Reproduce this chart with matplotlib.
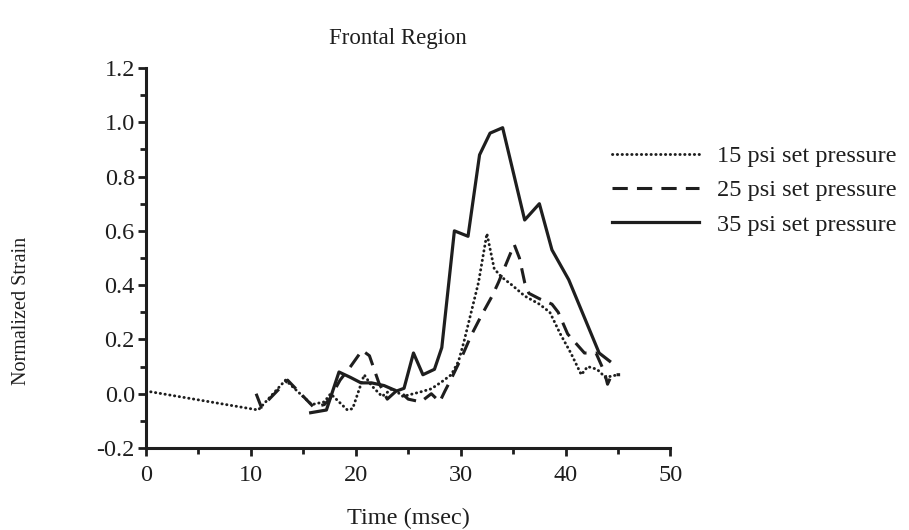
import matplotlib
matplotlib.use("Agg")
import matplotlib.pyplot as plt
from matplotlib.ticker import MultipleLocator

plt.rcParams['font.family'] = ['Liberation Serif', 'DejaVu Serif']

# 15 psi set pressure (dotted)
t15 = [0, 10.7, 13.3, 15.8, 17.0, 17.6, 19.2, 19.7, 20.8, 21.5, 22.5, 23.5, 24.5, 25.5,
       26.2, 27.2, 28.2, 29.1, 29.8, 30.3, 31.0, 31.7, 32.5, 33.2, 33.9, 34.9, 36.1,
       37.5, 38.5, 39.5, 40.5, 41.5, 42.1, 43.0, 43.8, 45.0]
v15 = [0.01, -0.06, 0.05, -0.04, -0.03, 0.0, -0.06, -0.055, 0.07, 0.03, -0.01, 0.02, -0.01, 0.0,
       0.007, 0.018, 0.044, 0.07, 0.12, 0.19, 0.30, 0.41, 0.59, 0.46, 0.43, 0.40, 0.36,
       0.33, 0.30, 0.22, 0.15, 0.07, 0.10, 0.09, 0.06, 0.07]

# 25 psi set pressure (dashed)
t25 = [10.5, 11.0, 13.5, 16.0, 17.0, 17.5, 18.5, 19.5, 20.6, 21.3, 22.2, 23.0, 24.0, 25.0,
       26.2, 27.2, 28.0, 28.5, 29.1, 30.1, 31.0, 32.0, 33.0, 33.6, 35.1, 35.6, 36.1,
       36.5, 37.5, 38.7, 39.3, 40.2, 41.8, 42.9, 43.7, 44.0, 44.4, 45.2]
v25 = [0.0, -0.05, 0.05, -0.05, -0.04, -0.02, 0.05, 0.10, 0.16, 0.14, 0.04, -0.02, 0.015, -0.02,
       -0.03, 0.0, -0.03, 0.01, 0.055, 0.135, 0.215, 0.29, 0.36, 0.41, 0.55, 0.50, 0.41,
       0.37, 0.35, 0.33, 0.30, 0.22, 0.15, 0.15, 0.08, 0.035, 0.07, 0.07]

# 35 psi set pressure (solid)
t35 = [15.7, 17.2, 18.4, 19.5, 20.5, 21.5, 22.7, 23.9, 24.6, 25.5, 26.4, 27.5, 28.2,
       29.4, 30.7, 31.8, 32.8, 34.0, 36.1, 37.5, 38.7, 40.3, 43.2, 44.2]
v35 = [-0.07, -0.06, 0.08, 0.06, 0.04, 0.04, 0.03, 0.01, 0.02, 0.15, 0.07, 0.09, 0.17,
       0.60, 0.58, 0.88, 0.96, 0.98, 0.64, 0.70, 0.53, 0.42, 0.15, 0.12]

labels = ["15 psi set pressure", "25 psi set pressure", "35 psi set pressure"]

ink = '#1e1e1e'
fig = plt.figure(figsize=(9.09, 5.30), dpi=100)
ax = fig.add_axes([0.1606, 0.1547, 0.577, 0.717])

l1, = ax.plot(t15, v15, color=ink, lw=2.1, linestyle=(0, (0.1, 1.55)),
              dash_capstyle='round')
l2, = ax.plot(t25, v25, color=ink, lw=2.2, linestyle=(0, (5.0, 3.0)))
l3, = ax.plot(t35, v35, color=ink, lw=2.3, linestyle='-')

ax.set_xlim(0, 50)
ax.set_ylim(-0.2, 1.2)
ax.xaxis.set_major_locator(MultipleLocator(10))
ax.xaxis.set_minor_locator(MultipleLocator(5))
ax.yaxis.set_major_locator(MultipleLocator(0.2))
ax.yaxis.set_minor_locator(MultipleLocator(0.1))
ax.yaxis.set_major_formatter(plt.FuncFormatter(lambda v, p: f"{v:.1f}"))

for s in ['top', 'right']:
    ax.spines[s].set_visible(False)
for s in ['left', 'bottom']:
    ax.spines[s].set_linewidth(2.2)
    ax.spines[s].set_color(ink)

ax.tick_params(axis='both', which='major', direction='out', length=6, width=2,
               color=ink, labelsize=17.5, labelcolor=ink)
ax.tick_params(axis='both', which='minor', direction='out', length=4, width=2,
               color=ink)
ax.tick_params(axis='x', pad=6)
ax.tick_params(axis='y', pad=2)

ax.set_xlabel("Time (msec)", fontsize=17.5, color=ink, labelpad=16)
ax.set_ylabel("Normalized Strain", fontsize=14.5, color=ink)
ax.yaxis.set_label_coords(-0.219, 0.36)
fig.text(0.438, 0.928, "Frontal Region", ha='center', va='center', fontsize=16.5,
         color=ink)

fig.legend([l1, l2, l3], labels, loc='upper left', bbox_to_anchor=(0.673, 0.726),
           frameon=False, fontsize=17.5, handlelength=3.6, handletextpad=0.72,
           labelspacing=0.5, labelcolor=ink, borderaxespad=0, borderpad=0)

fig.savefig("out.png", dpi=100)
